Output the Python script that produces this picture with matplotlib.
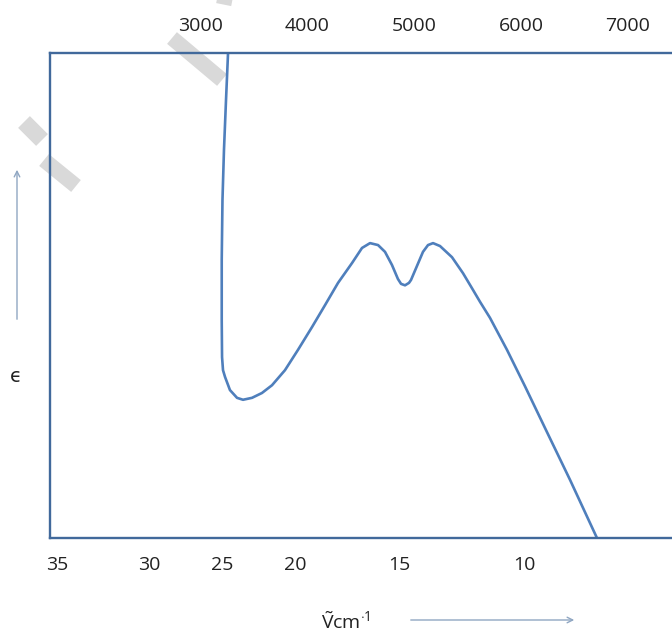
import matplotlib
matplotlib.use('Agg')
import matplotlib.pyplot as plt
from matplotlib.lines import Line2D

plt.rcParams['font.family'] = ['Open Sans', 'DejaVu Sans']
plt.rcParams['mathtext.fontset'] = 'custom'
plt.rcParams['mathtext.rm'] = 'Open Sans'

# curve (x in top-axis units, y = relative epsilon 0..100)
wave = [3262, 3243, 3224, 3210, 3203, 3203, 3206, 3215, 3234, 3280, 3346, 3402,
        3486, 3579, 3673, 3794, 3916, 4047, 4168, 4290, 4421, 4514, 4589,
        4664, 4729, 4794, 4850, 4879, 4916, 4953, 4972, 5028, 5084, 5131,
        5178, 5243, 5355, 5458, 5542, 5617, 5710, 5869, 6037, 6224, 6458, 6710]
eps = [100, 90.3, 80.0, 69.7, 57.3, 44.9, 37.3, 34.6, 33.2, 30.5, 28.9, 28.5,
       28.9, 29.9, 31.5, 34.6, 38.8, 43.5, 48.0, 52.6, 56.7, 59.8, 60.8,
       60.4, 59.0, 56.3, 53.4, 52.4, 52.1, 52.6, 53.2, 56.1, 59.0, 60.4,
       60.8, 60.2, 57.9, 54.6, 51.5, 48.7, 45.4, 38.8, 31.3, 22.7, 12.0, 0]

top_ticks = [3000, 4000, 5000, 6000, 7000]
bottom_pos = [1662, 2529, 3210, 3888, 4866, 6032]
bottom_labels = ['35', '30', '25', '20', '15', '10']

fig = plt.figure(figsize=(6.72, 6.33), dpi=100)
ax = fig.add_axes([50 / 672, 95 / 633, 650 / 672, 485 / 633])
ax.set_facecolor('none')

ax.plot(wave, eps, color='#4f7fbc', lw=1.9, solid_joinstyle='round',
        solid_capstyle='round')
ax.set_xlim(1598, 7673)
ax.set_ylim(0, 100)

spine_col = '#41699b'
for s in ax.spines.values():
    s.set_color(spine_col)
    s.set_linewidth(1.7)
ax.spines['right'].set_visible(False)

ax.set_yticks([])
ax.set_xticks(bottom_pos)
ax.set_xticklabels(bottom_labels)
ax.tick_params(axis='x', length=0, pad=13, labelsize=14, labelcolor='#222222')

ax2 = ax.twiny()
ax2.set_xlim(ax.get_xlim())
ax2.set_xticks(top_ticks)
ax2.set_xticklabels([str(t) for t in top_ticks])
ax2.tick_params(axis='x', length=0, pad=13, labelsize=14, labelcolor='#222222')
for s in ax2.spines.values():
    s.set_visible(False)

# axis captions and arrows
fig.text(16 / 672, 1 - 377 / 633, '\u03f5', fontsize=14, ha='center', va='center',
         color='#222222')
fig.text(346 / 672, 1 - 622 / 633, r'$\tilde{\mathrm{V}}\mathrm{cm}^{\cdot 1}$',
         fontsize=14, ha='center', va='center', color='#222222')
arrow_col = '#8fa6c2'
plt.annotate('', xy=(17 / 672, 1 - 167 / 633), xytext=(17 / 672, 1 - 322 / 633),
             xycoords='figure fraction',
             arrowprops=dict(arrowstyle='->', color=arrow_col, lw=1.0))
plt.annotate('', xy=(577 / 672, 1 - 620 / 633), xytext=(408 / 672, 1 - 620 / 633),
             xycoords='figure fraction',
             arrowprops=dict(arrowstyle='->', color=arrow_col, lw=1.0))

# light grey watermark strokes, kept underneath the axes
wm = '#d9d9d9'
for (x0, y0, x1, y1, w) in [(172, 38, 222, 80, 11), (24, 122, 42, 140, 12),
                            (44, 160, 76, 186, 11), (212, -2, 232, 2, 6)]:
    fig.add_artist(Line2D([x0 / 672, x1 / 672], [1 - y0 / 633, 1 - y1 / 633],
                          color=wm, lw=w, solid_capstyle='butt', zorder=-1))

fig.savefig('out.png', dpi=100)
